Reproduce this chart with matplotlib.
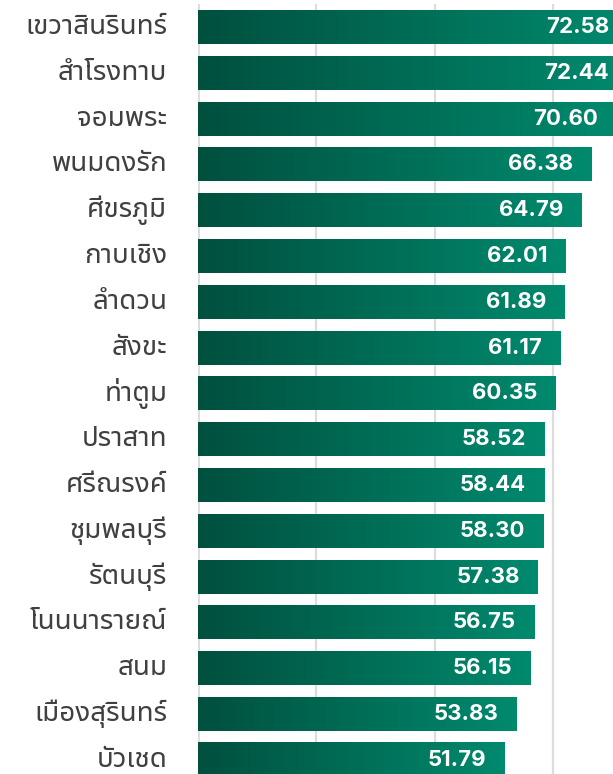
import numpy as np
import matplotlib.pyplot as plt
from matplotlib.colors import LinearSegmentedColormap

# dados
distritos = ['เขวาสินรินทร์', 'สำโรงทาบ', 'จอมพระ', 'พนมดงรัก', 'ศีขรภูมิ', 'กาบเชิง',
             'ลำดวน', 'สังขะ', 'ท่าตูม', 'ปราสาท', 'ศรีณรงค์', 'ชุมพลบุรี', 'รัตนบุรี',
             'โนนนารายณ์', 'สนม', 'เมืองสุรินทร์', 'บัวเชด']
valores = [72.58, 72.44, 70.60, 66.38, 64.79, 62.01, 61.89, 61.17, 60.35, 58.52,
           58.44, 58.30, 57.38, 56.75, 56.15, 53.83, 51.79]
ticks_grade = [20, 40, 60]

# fontes sem laço primeiro, se existirem
fontes_thai = ['Noto Sans Thai UI', 'Kanit', 'Prompt', 'IBM Plex Sans Thai', 'Anuphan',
               'Noto Sans Thai', 'Noto Sans Thai Looped', 'Loma', 'Garuda', 'Waree',
               'Sarabun', 'Tlwg Typo', 'DejaVu Sans']

cmap = LinearSegmentedColormap.from_list('verde', ['#01503e', '#008a6e'])
gradiente = np.linspace(0, 1, 256).reshape(1, -1)

fig = plt.figure(figsize=(6.13, 7.74), dpi=100)
escala = 5.925 / 613  # fracao da figura por unidade
ax = fig.add_axes([197.5 / 613, 0, 75 * escala, 770 / 774])

altura = 0.742
for i, (nome, v) in enumerate(zip(distritos, valores)):
    ax.imshow(gradiente, cmap=cmap, aspect='auto', interpolation='bilinear',
              extent=[0, v, i + altura / 2, i - altura / 2], zorder=2)
    ax.text(v - 3.0, i, f'{v:.2f}', ha='right', va='center', color='white',
            fontsize=16, fontweight='bold', family=['Inter', 'DejaVu Sans'], zorder=3)
    ax.text(-5.1, i, nome, ha='right', va='center', color='#404040',
            fontsize=20, family=fontes_thai)

for x in ticks_grade:
    ax.axvline(x, color='#dddddd', linewidth=1.6, zorder=1)
ax.axvline(0, color='#dddddd', linewidth=2.2, zorder=1)

ax.set_xlim(0, 75)
ax.set_ylim(16.31, -0.502)
ax.axis('off')

fig.savefig('out.png', dpi=100)
